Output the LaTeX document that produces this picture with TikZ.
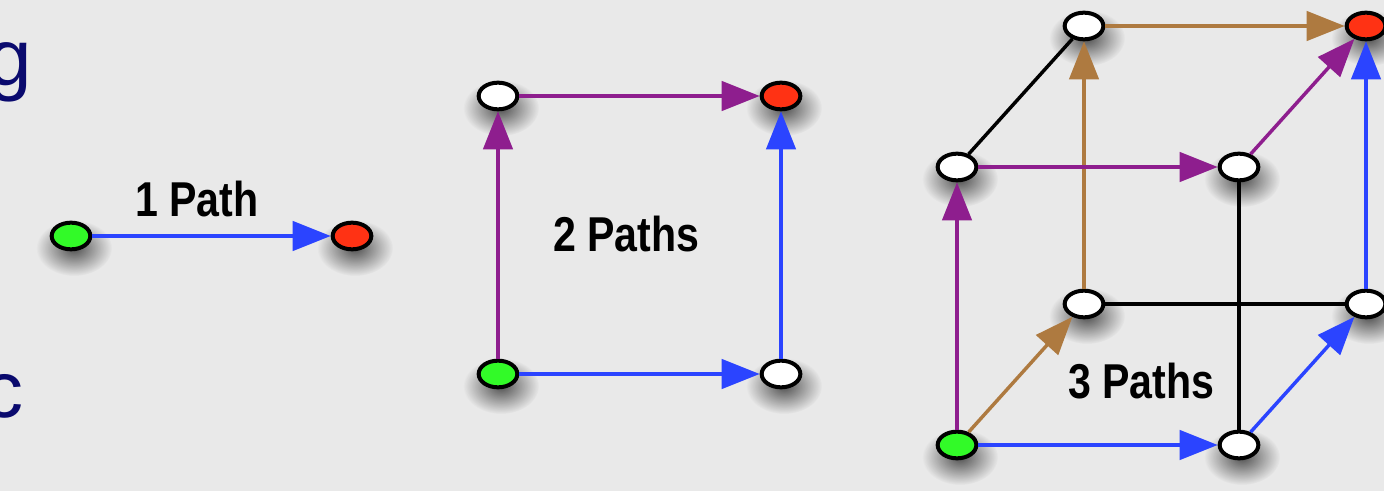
\documentclass[tikz,border=0pt]{standalone}
\usepackage{fontspec}
\setmainfont{Liberation Sans}
\newfontfamily\labfont[FakeStretch=0.84]{Liberation Sans}
\usetikzlibrary{shapes.geometric,arrows.meta,fadings}

\definecolor{bgcol}{RGB}{233,233,233}
\definecolor{pblue}{RGB}{43,68,255}
\definecolor{ppurple}{RGB}{142,30,142}
\definecolor{pbrown}{RGB}{174,122,64}
\definecolor{vgreen}{RGB}{50,250,40}
\definecolor{vred}{RGB}{255,50,20}
\definecolor{navy}{RGB}{10,10,110}

\pgfdeclarelayer{under}
\pgfsetlayers{under,main}
\tikzfading[name=blobfade, inner color=transparent!10, outer color=transparent!100]

\tikzset{
  vert/.style={ellipse, draw=black, line width=3pt, fill=white,
    minimum width=29pt, minimum height=20pt, inner sep=0pt},
  start/.style={vert, fill=vgreen},
  goal/.style={vert, fill=vred},
  softshadow/.style={fill=black, fill opacity=0.72, path fading=blobfade, overlay},
  arr/.style={line width=2.6pt, -{Triangle[length=28.5pt,width=22pt]}},
  edge/.style={line width=2.6pt, draw=black},
  lab/.style={anchor=base west, inner sep=0pt,
    font=\labfont\bfseries\fontsize{36.7}{40}\selectfont},
  title/.style={anchor=base east, inner sep=0pt, text=navy,
    font=\fontsize{60}{66}\selectfont}
}

\begin{document}
\begin{tikzpicture}[x=0.75pt,y=-0.75pt]
  \useasboundingbox (0,0) rectangle (1384,491);
  \begin{pgfonlayer}{under}
    \fill[bgcol] (0,0) rectangle (1384,491);
  \end{pgfonlayer}
  \clip (0,0) rectangle (1384,491);

  % letters of the slide title, cut at the left edge
  \node[title] (tg) at (32,86) {g};
  \node[title] (tc) at (24,417) {c};

  % one edge
  \node[start] (a1) at (71,236) {};
  \node[goal]  (a2) at (352,236) {};
  \draw[arr, pblue] (a1) -- (a2);
  \node[lab] (la) at (135,217) {1 Path};

  % square
  \node[start] (b00) at (498,374) {};
  \node[vert]  (b10) at (781,374) {};
  \node[vert]  (b01) at (498,96) {};
  \node[goal]  (b11) at (781,96) {};
  \draw[arr, pblue]   (b00) -- (b10);
  \draw[arr, pblue]   (b10) -- (b11);
  \draw[arr, ppurple] (b00) -- (b01);
  \draw[arr, ppurple] (b01) -- (b11);
  \node[lab] (lb) at (553,252) {2 Paths};

  % cube
  \node[vert]  (c001) at (1084,304) {};
  \node[vert]  (c101) at (1366,304) {};
  \node[vert]  (c011) at (1084,26) {};
  \node[goal]  (c111) at (1366,26) {};
  \node[start] (c000) at (957,445) {};
  \node[vert]  (c100) at (1239,445) {};
  \node[vert]  (c010) at (957,167) {};
  \node[vert]  (c110) at (1239,167) {};

  \draw[edge] (c001) -- (c101);
  \draw[edge] (c010) -- (c011);
  \draw[edge] (c110) -- (c100);

  \draw[arr, pbrown]  (c001) -- (c011);
  \draw[arr, pbrown]  (c011) -- (c111);
  \draw[arr, pbrown]  (c000) -- (c001);
  \draw[arr, ppurple] (c000) -- (c010);
  \draw[arr, ppurple] (c010) -- (c110);
  \draw[arr, ppurple] (c110) -- (c111);
  \draw[arr, pblue]   (c000) -- (c100);
  \draw[arr, pblue]   (c100) -- (c101);
  \draw[arr, pblue]   (c101) -- (c111);
  \node[lab] (lc) at (1068,398) {3 Paths};

  % soft drop shadows under every vertex
  \begin{pgfonlayer}{under}
    \foreach \v in {a1,a2,b00,b10,b01,b11,c000,c100,c010,c110,c001,c101,c011,c111}
      \fill[softshadow, shift={(\v.center)}] (3,12) ellipse [x radius=38, y radius=28];
  \end{pgfonlayer}
\end{tikzpicture}
\end{document}
